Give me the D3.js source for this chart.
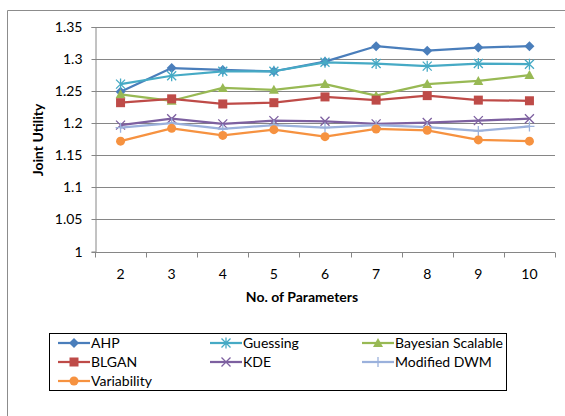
<!DOCTYPE html>
<html>
<head>
<meta charset="utf-8">
<script src="https://cdn.jsdelivr.net/npm/d3@7"></script>
<style>
  html, body { margin: 0; padding: 0; background: #fff; }
  svg { display: block; }
  text { font-family: Lato, "Open Sans", sans-serif; fill: #000; }
</style>
</head>
<body>
<svg id="chart" width="565" height="416"></svg>
<script>
const categories = ["2", "3", "4", "5", "6", "7", "8", "9", "10"];
const yTicks = [1, 1.05, 1.1, 1.15, 1.2, 1.25, 1.3, 1.35];
const yTickLabels = ["1", "1.05", "1.1", "1.15", "1.2", "1.25", "1.3", "1.35"];
const seriesNames = ["AHP", "Guessing", "Bayesian Scalable", "BLGAN", "KDE", "Modified DWM", "Variability"];
const ahp       = [1.249, 1.286, 1.283, 1.281, 1.296, 1.320, 1.313, 1.318, 1.320];
const guessing  = [1.261, 1.274, 1.281, 1.281, 1.295, 1.293, 1.289, 1.293, 1.292];
const bayesian  = [1.245, 1.235, 1.255, 1.252, 1.261, 1.243, 1.261, 1.266, 1.275];
const blgan     = [1.232, 1.238, 1.230, 1.232, 1.241, 1.236, 1.243, 1.236, 1.235];
const kde       = [1.197, 1.207, 1.199, 1.204, 1.203, 1.199, 1.201, 1.204, 1.207];
const modDwm    = [1.193, 1.200, 1.191, 1.197, 1.193, 1.197, 1.194, 1.188, 1.195];
const variability = [1.172, 1.192, 1.181, 1.190, 1.179, 1.191, 1.189, 1.174, 1.172];

const seriesValues = [ahp, guessing, bayesian, blgan, kde, modDwm, variability];
const colors = ["#4A7EBB", "#46AAC5", "#98B954", "#BE4B48", "#7D60A0", "#9BB1DC", "#F69240"];
const markers = ["diamond", "asterisk", "triangle", "square", "cross", "plus", "circle"];

const svg = d3.select("#chart");

// outer frame
svg.append("path")
  .attr("d", "M7.5,416 L7.5,10.5 L565,10.5")
  .attr("fill", "none").attr("stroke", "#8c8c8c").attr("stroke-width", 1);

const plotL = 95, plotR = 555, plotT = 27, plotB = 251.5;
const x = d3.scaleBand().domain(categories).range([plotL, plotR]);
const y = d3.scaleLinear().domain([1, 1.35]).range([plotB, plotT]);

// gridlines
svg.append("g")
  .selectAll("line").data(yTicks.slice(1)).join("line")
  .attr("x1", plotL).attr("x2", plotR)
  .attr("y1", d => Math.round(y(d)) + 0.5).attr("y2", d => Math.round(y(d)) + 0.5)
  .attr("stroke", "#868686").attr("stroke-width", 1);

// y axis
const yAxis = d3.axisLeft(y).tickValues(yTicks)
  .tickFormat((d, i) => yTickLabels[i]).tickSize(4).tickPadding(9);
const gy = svg.append("g").attr("transform", `translate(${plotL + 0.5},0)`).call(yAxis);
gy.select(".domain").attr("stroke", "#868686");
gy.selectAll(".tick line").attr("stroke", "#868686");
gy.selectAll(".tick").attr("transform", d => `translate(0,${Math.round(y(d)) + 0.5})`);
gy.selectAll("text").style("font-size", "14px").attr("fill", "#000");

// x axis
const gx = svg.append("g").attr("transform", `translate(0,${Math.round(plotB) + 0.5})`);
gx.append("line").attr("x1", plotL).attr("x2", plotR).attr("stroke", "#868686");
const boundaries = categories.map(c => x(c)).concat([x.range()[1]]);
gx.selectAll(".xt").data(boundaries).join("line").attr("class", "xt")
  .attr("x1", d => Math.round(d) + 0.5).attr("x2", d => Math.round(d) + 0.5)
  .attr("y1", 0).attr("y2", 5).attr("stroke", "#868686");
gx.selectAll(".xl").data(categories).join("text").attr("class", "xl")
  .attr("x", d => x(d) + x.bandwidth() / 2).attr("y", 26)
  .attr("text-anchor", "middle").style("font-size", "14px").text(d => d);

// axis titles
svg.append("text").attr("x", 302).attr("y", 302).attr("text-anchor", "middle")
  .style("font-size", "14px").style("font-weight", "bold").text("No. of Parameters");
svg.append("text").attr("transform", "translate(43,140) rotate(-90)").attr("text-anchor", "middle")
  .style("font-size", "14px").style("font-weight", "bold").text("Joint Utility");

function drawMarker(g, type, color) {
  switch (type) {
    case "diamond":
      g.append("path").attr("d", "M0,-5 L5,0 L0,5 L-5,0 Z").attr("fill", color);
      break;
    case "square":
      g.append("rect").attr("x", -4.5).attr("y", -4.5).attr("width", 9).attr("height", 9).attr("fill", color);
      break;
    case "triangle":
      g.append("path").attr("d", "M0,-5 L5,4 L-5,4 Z").attr("fill", color);
      break;
    case "circle":
      g.append("circle").attr("r", 4.5).attr("fill", color);
      break;
    case "cross":
      g.append("path").attr("d", "M-4.5,-4.5 L4.5,4.5 M-4.5,4.5 L4.5,-4.5")
        .attr("stroke", color).attr("stroke-width", 1.3).attr("fill", "none");
      break;
    case "asterisk":
      g.append("path").attr("d", "M-4.5,-4.5 L4.5,4.5 M-4.5,4.5 L4.5,-4.5 M0,-5.5 L0,5.5")
        .attr("stroke", color).attr("stroke-width", 1.3).attr("fill", "none");
      break;
    case "plus":
      g.append("path").attr("d", "M-5,0 L5,0 M0,-5 L0,5")
        .attr("stroke", color).attr("stroke-width", 1.3).attr("fill", "none");
      break;
  }
}

const line = d3.line().x((d, i) => x(categories[i]) + x.bandwidth() / 2).y(d => y(d));

seriesValues.forEach((vals, si) => {
  const g = svg.append("g");
  g.append("path").datum(vals).attr("d", line)
    .attr("fill", "none").attr("stroke", colors[si]).attr("stroke-width", 2.25)
    .attr("stroke-linejoin", "round");
  vals.forEach((v, i) => {
    const mg = g.append("g").attr("transform", `translate(${x(categories[i]) + x.bandwidth() / 2},${y(v)})`);
    drawMarker(mg, markers[si], colors[si]);
  });
});

// legend
const legend = svg.append("g");
legend.append("rect").attr("x", 49.5).attr("y", 333.5).attr("width", 457).attr("height", 57)
  .attr("fill", "#fff").attr("stroke", "#000").attr("stroke-width", 1);
const colX = [58, 210, 362];
const rowY = [343, 362, 381];
seriesNames.forEach((name, i) => {
  const cx = colX[i % 3], cy = rowY[Math.floor(i / 3)];
  const item = legend.append("g").attr("transform", `translate(${cx},${cy})`);
  item.append("line").attr("x1", 0).attr("x2", 32).attr("y1", 0).attr("y2", 0)
    .attr("stroke", colors[i]).attr("stroke-width", 2.25);
  const mg = item.append("g").attr("transform", "translate(16,0)");
  drawMarker(mg, markers[i], colors[i]);
  item.append("text").attr("x", 33).attr("y", 0).attr("dy", "0.35em")
    .style("font-size", "14px").text(name);
});
</script>
</body>
</html>
